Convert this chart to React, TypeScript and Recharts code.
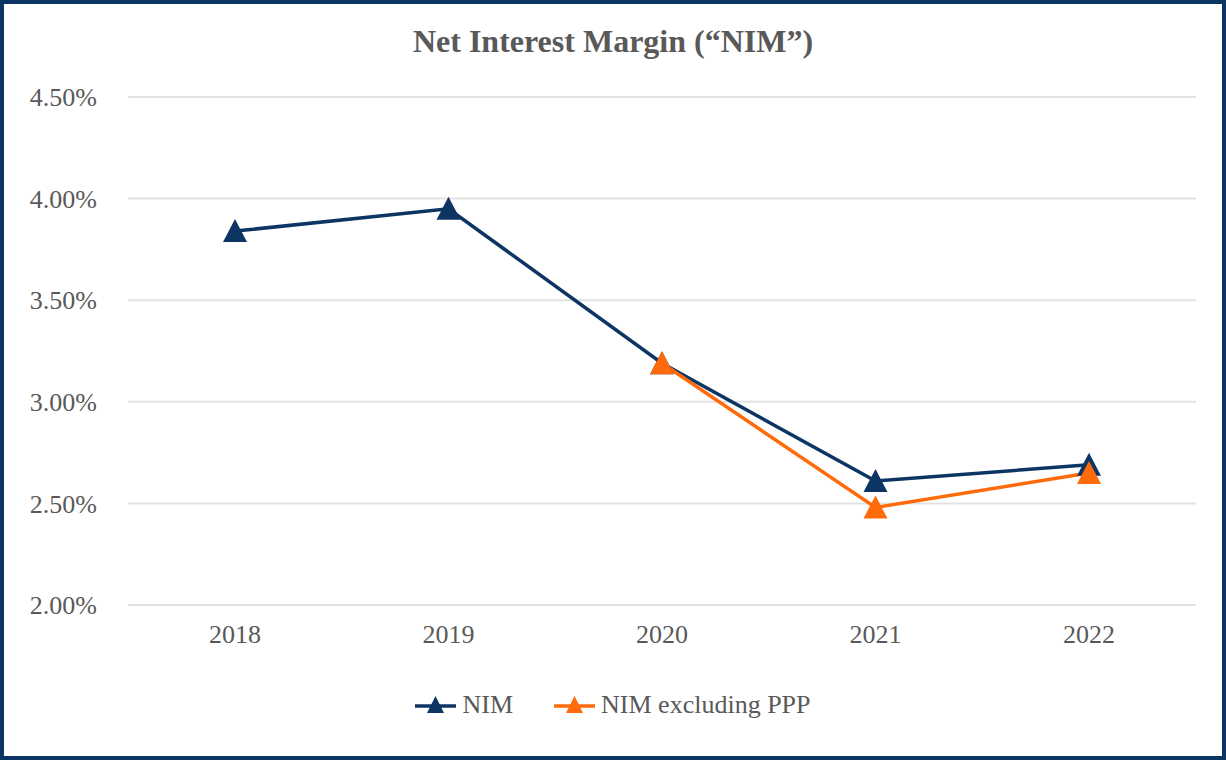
import React from 'react';
import { LineChart, Line, XAxis, YAxis, CartesianGrid, Legend } from 'recharts';

const years = ['2018', '2019', '2020', '2021', '2022'];
const nim = [3.84, 3.95, 3.19, 2.61, 2.69];
const nimExPpp = [null, null, 3.19, 2.48, 2.65];
const yTicks = [2.0, 2.5, 3.0, 3.5, 4.0, 4.5];

const NAVY = '#0C3564';
const ORANGE = '#FF6B0B';
const TEXT = '#595959';
const FONT = '"Liberation Serif", "Times New Roman", serif';

const data = years.map((year, i) => ({ year, nim: nim[i], nimEx: nimExPpp[i] }));

const Triangle = (props: any) => {
  const { cx, cy, fill } = props;
  if (cx == null || cy == null || props.value == null) return <g key={props.key} />;
  const d = `M${cx},${cy - 12} L${cx + 12},${cy + 11} L${cx - 12},${cy + 11} Z`;
  return <path key={props.key} d={d} fill={fill} />;
};

const legendItems = [
  { label: 'NIM', color: NAVY },
  { label: 'NIM excluding PPP', color: ORANGE },
];

const LegendContent = () => (
  <div style={{ display: 'flex', justifyContent: 'center', alignItems: 'center', fontFamily: FONT, fontSize: 26, color: TEXT }}>
    {legendItems.map((item, i) => (
      <div key={item.label} style={{ display: 'flex', alignItems: 'center', marginLeft: i === 0 ? 0 : 41 }}>
        <svg width={41} height={24} style={{ marginRight: 6 }}>
          <line x1={0} y1={13} x2={41} y2={13} stroke={item.color} strokeWidth={3.5} />
          <path d="M20.5,3 L29,20 L12,20 Z" fill={item.color} />
        </svg>
        <span>{item.label}</span>
      </div>
    ))}
  </div>
);

export default function App() {
  return (
    <div style={{ position: 'absolute', top: 0, left: 0, width: 1226, height: 760, background: '#fff', overflow: 'hidden' }}>
      <div
        style={{
          position: 'absolute',
          top: 23,
          left: 0,
          width: 1226,
          textAlign: 'center',
          fontFamily: FONT,
          fontWeight: 'bold',
          fontSize: 32,
          color: TEXT,
          lineHeight: '36px',
        }}
      >
        Net Interest Margin (“NIM”)
      </div>
      <LineChart width={1226} height={760} data={data} margin={{ top: 97, right: 30, bottom: 125, left: 0 }}>
        <CartesianGrid vertical={false} stroke="#E2E2E2" strokeWidth={2} />
        <XAxis
          dataKey="year"
          height={30}
          padding={{ left: 107, right: 107 }}
          axisLine={{ stroke: '#E2E2E2', strokeWidth: 2 }}
          tickLine={false}
          tickSize={0}
          tickMargin={20}
          tick={{ fill: TEXT, fontSize: 26, fontFamily: FONT }}
        />
        <YAxis
          width={128}
          domain={[2, 4.5]}
          ticks={yTicks}
          axisLine={false}
          tickLine={false}
          tickSize={0}
          tickMargin={31}
          tickFormatter={(v: number) => `${v.toFixed(2)}%`}
          tick={{ fill: TEXT, fontSize: 26, fontFamily: FONT }}
        />
        <Legend
          verticalAlign="middle"
          layout="horizontal"
          wrapperStyle={{ top: 690, left: 0, width: 1226 }}
          content={<LegendContent />}
        />
        <Line
          dataKey="nim"
          name="NIM"
          stroke={NAVY}
          strokeWidth={3.5}
          dot={<Triangle fill={NAVY} />}
          activeDot={false}
          isAnimationActive={false}
        />
        <Line
          dataKey="nimEx"
          name="NIM excluding PPP"
          stroke={ORANGE}
          strokeWidth={3.5}
          dot={<Triangle fill={ORANGE} />}
          activeDot={false}
          connectNulls={false}
          isAnimationActive={false}
        />
      </LineChart>
      <div
        style={{
          position: 'absolute',
          top: 0,
          left: 0,
          width: 1226,
          height: 760,
          boxSizing: 'border-box',
          border: `4px solid ${NAVY}`,
          pointerEvents: 'none',
        }}
      />
    </div>
  );
}
